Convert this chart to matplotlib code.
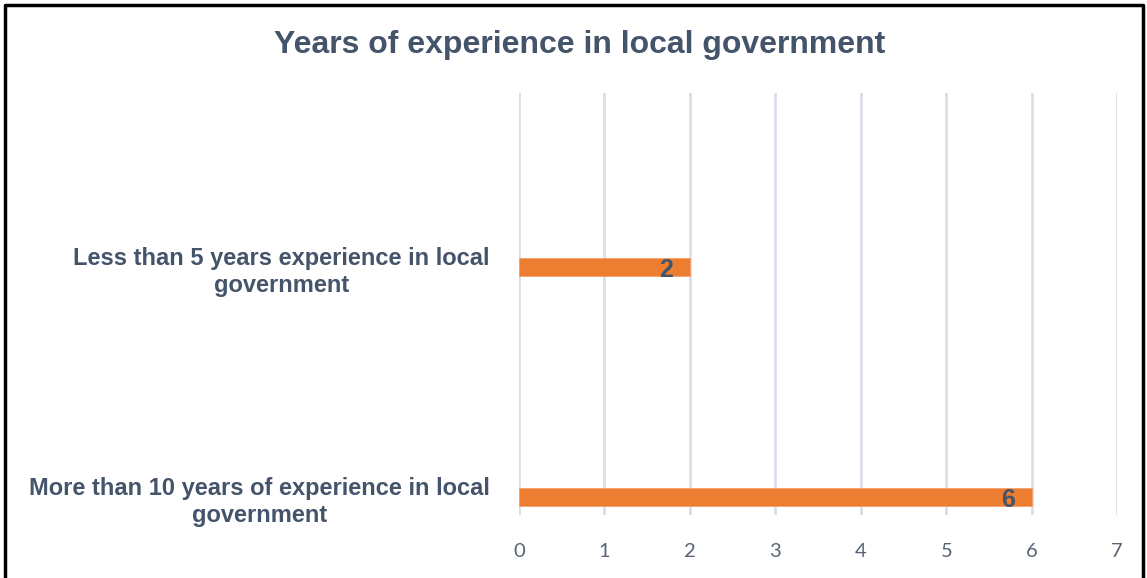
import numpy as np
import matplotlib
matplotlib.use("Agg")
import matplotlib.pyplot as plt
from matplotlib.lines import Line2D

# chart data
title = "Years of experience in local government"
categories = ["More than 10 years of experience in local\ngovernment",
              "Less than 5 years experience in local\ngovernment"]
values = [6, 2]
xticks = [0, 1, 2, 3, 4, 5, 6, 7]

plt.rcParams['font.family'] = ['Liberation Sans', 'DejaVu Sans']
dark = '#44546A'

fig = plt.figure(figsize=(11.47, 5.78), dpi=100)
ax = fig.add_axes([0.4525, 0.109, 0.974 - 0.4525, 0.839 - 0.109])

pos = np.arange(len(categories))
ax.barh(pos, values, height=0.078, color='#ED7D31', edgecolor='#F4A06A', linewidth=0.6, zorder=3)
for p, v in zip(pos, values):
    ax.annotate(str(v), (v, p), xytext=(-12, -2), textcoords='offset points',
                ha='right', va='center', fontsize=18, fontweight='bold', color=dark, zorder=4)

ax.set_xlim(0, 7)
ax.set_ylim(-0.078, 1.757)
ax.set_xticks(xticks)
ax.set_xticklabels([str(t) for t in xticks], fontsize=14.5, color='#586474', family='Lato')
ax.set_yticks(pos)
ax.set_yticklabels(categories, fontsize=17, fontweight='bold', color=dark,
                   multialignment='center', linespacing=1.25)
ax.tick_params(axis='both', length=0)
ax.tick_params(axis='y', pad=21)
ax.tick_params(axis='x', pad=20)
ax.grid(axis='x', color='#D9DEE8', linewidth=2, zorder=0)
for s in ax.spines.values():
    s.set_visible(False)

fig.text(0.505, 0.922, title, ha='center', va='center', fontsize=23,
         fontweight='bold', color=dark)

# black frame around the chart (bottom is cut off)
W, H = 1147, 578
fx = [5 / W, 5 / W, 1143 / W, 1143 / W]
fy = [-0.01, 1 - 5 / H, 1 - 5 / H, -0.01]
fig.add_artist(Line2D(fx, fy, color='black', linewidth=2.5, transform=fig.transFigure))

fig.savefig("out.png", dpi=100)
